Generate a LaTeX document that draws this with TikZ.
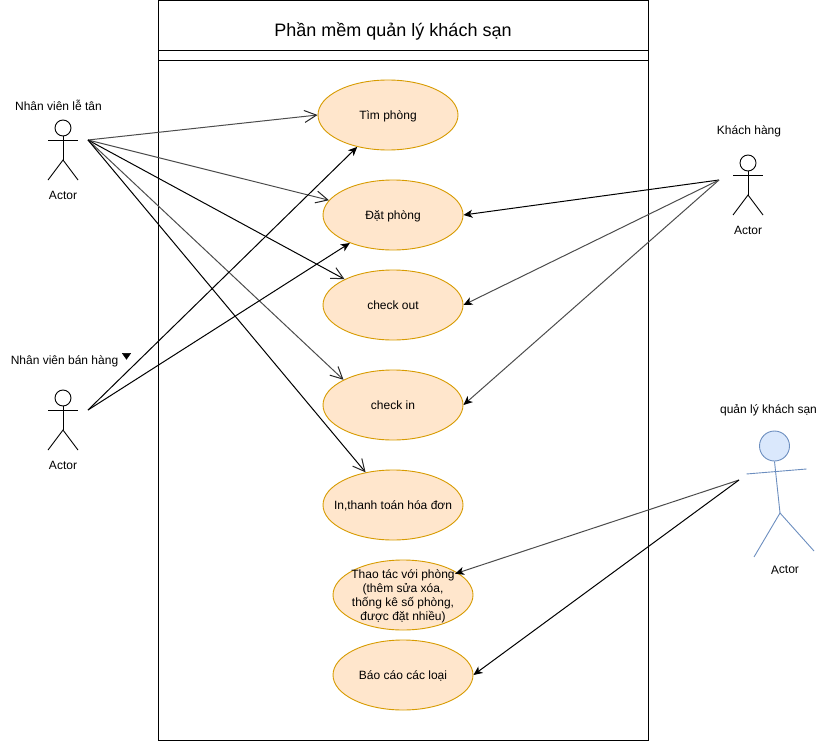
\documentclass[tikz,border=0pt]{standalone}
\usepackage{fontspec}
\setmainfont{Liberation Sans}
\usetikzlibrary{shapes.geometric,arrows.meta}
\tikzset{
	usecase/.style={draw=usecaseline,fill=usecasefill,shape=ellipse,line width=0.9pt,minimum width=140pt,minimum height=70pt,inner sep=-10pt,text depth=0pt,font=\fontsize{12}{14}\selectfont,align=center},
	lbl/.style={font=\fontsize{12}{14}\selectfont,inner sep=0pt},
	link/.style={-{Stealth[length=9pt,width=8pt,inset=2.5pt,color=black]},line width=1pt,black},
	linkgrey/.style={link,draw=black!70},
	openlink/.style={-{Straight Barb[length=12pt,width=12pt,color=black!85]},line width=1pt,black},
	opengrey/.style={openlink,draw=black!70},
	stick/.style={line width=0.9pt}
}
\definecolor{usecaseline}{HTML}{D79B00}
\definecolor{usecasefill}{HTML}{FFE6CC}
\definecolor{bossline}{HTML}{6C8EBF}
\definecolor{bossfill}{HTML}{DAE8FC}
\begin{document}
\begin{tikzpicture}[x=1pt,y=-1pt]
	\useasboundingbox (0,0) rectangle (829,741);
	% system frame
	\node[draw,line width=0.9pt,minimum width=490pt,minimum height=740pt,inner sep=0pt,name=Frame] at (403,370){};
	\draw[stick] (158,50)--(648,50);
	\draw[stick] (158,60)--(648,60);
	\node[font=\fontsize{18}{21}\selectfont,inner sep=0pt,name=Title] at (393,31){Phần mềm quản lý khách sạn};
	% use cases
	\node[usecase,name=Tim] at (388,115){Tìm phòng};
	\node[usecase,name=Dat] at (393,215){Đặt phòng};
	\node[usecase,name=Out] at (393,305){check out};
	\node[usecase,name=In] at (393,405){check in};
	\node[usecase,name=Bill] at (393,505){In,thanh toán hóa đơn};
	\node[usecase,name=Room] at (403,595){Thao tác với phòng\\(thêm sửa xóa,\\thống kê số phòng,\\được đặt nhiều)};
	\node[usecase,name=Report] at (403,675){Báo cáo các loại};
	% actors
	\foreach \a/\x/\y in {Recep/63/120,Sale/63/390,Guest/748/155}{
		\node[draw,shape=circle,stick,minimum size=16pt,inner sep=0pt,name=\a] at (\x,\y+8){};
		\draw[stick] (\a.south)--(\x,\y+40);
		\draw[stick] (\x-15,\y+20)--(\x+15,\y+20);
		\draw[stick] (\x-15,\y+60)--(\x,\y+40)--(\x+15,\y+60);
		\node[lbl,name=\a Text] at (\x,\y+75){Actor};
	}
	\node[lbl,name=RecepName] at (58.5,105){Nhân viên lễ tân};
	\node[lbl,name=SaleName] at (64.5,361){Nhân viên bán hàng};
	\node[lbl,name=GuestName] at (749,131.5){Khách hàng};
	\node[draw,fill=black,shape=isosceles triangle,isosceles triangle apex angle=70,shape border rotate=-90,inner sep=0pt,minimum width=7pt,minimum height=6pt,name=Mark] at (126.5,355.5){};
	% manager
	\node[draw=bossline,fill=bossfill,shape=circle,line width=0.9pt,minimum size=30pt,inner sep=0pt,name=Boss] at (774.5,446){};
	\draw[bossline,line width=0.9pt] (Boss.south)--(780,513);
	\draw[bossline,line width=0.9pt] (746.5,474)--(806.5,469);
	\draw[bossline,line width=0.9pt] (754,557)--(780,513)--(814,551);
	\node[lbl,rotate=3,name=BossText] at (785,569.5){Actor};
	\node[lbl,name=BossName] at (768.5,410.5){quản lý khách sạn};
	% free ends
	\coordinate (RecepEnd) at (88,140);
	\coordinate (SaleEnd) at (88,410);
	\coordinate (GuestEnd) at (719,180);
	\coordinate (BossEnd) at (739,480);
	\draw[opengrey] (RecepEnd)--(Tim.west);
	\draw[opengrey] (RecepEnd)--(Dat.167);
	\draw[openlink] (RecepEnd)--(Out.152);
	\draw[opengrey] (RecepEnd)--(In.153);
	\draw[openlink] (RecepEnd)--(Bill.130);
	\draw[link] (SaleEnd)--(Tim.226);
	\draw[link] (SaleEnd)--(Dat.213);
	\draw[link] (GuestEnd)--(Dat.east);
	\draw[linkgrey] (GuestEnd)--(Out.east);
	\draw[linkgrey] (GuestEnd)--(In.east);
	\draw[linkgrey,shorten >=-3pt] (BossEnd)--(Room.22);
	\draw[link] (BossEnd)--(Report.east);
\end{tikzpicture}
\end{document}
